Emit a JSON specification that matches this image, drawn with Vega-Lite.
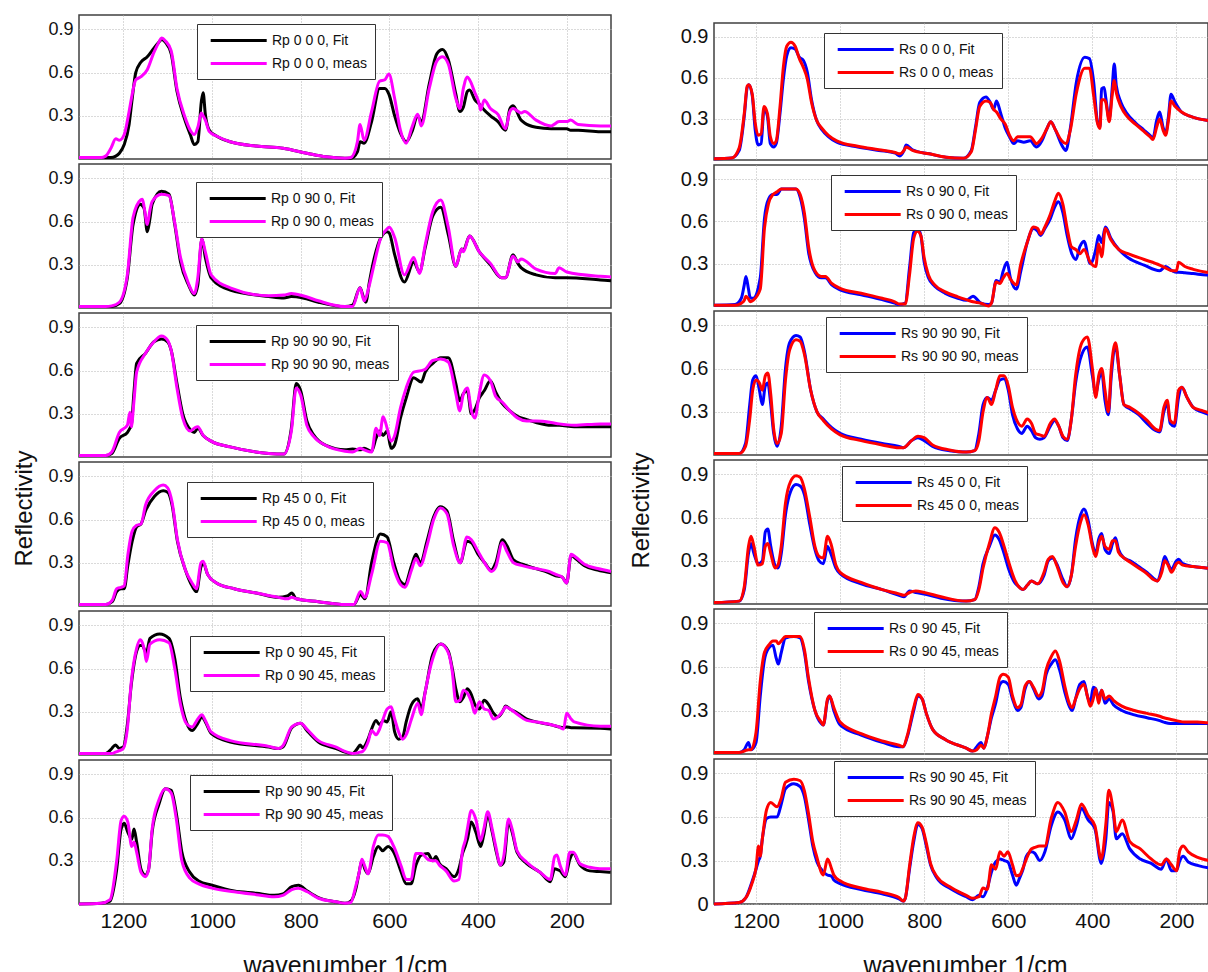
{
"$schema": "https://vega.github.io/schema/vega-lite/v6.json",
"padding": {"left": 11, "top": 13, "right": 0, "bottom": 0},
"background": "white",
"spacing": 14,
"resolve": {"scale": {"x": "independent", "y": "independent", "color": "independent"}, "legend": {"color": "independent"}},
"config": {
  "font": "Liberation Sans",
  "view": {"stroke": "#404040", "strokeWidth": 1.5},
  "axis": {"labelFont": "Liberation Sans", "titleFont": "Liberation Sans", "labelColor": "#111", "titleColor": "#111", "titleFontWeight": "normal", "gridColor": "#b5b5b5", "gridDash": [1, 2], "gridWidth": 1, "domain": false, "ticks": false, "labelPadding": 6},
  "legend": {"symbolType": "M-0.4,0H7.6", "symbolSize": 196, "symbolStrokeWidth": 4, "labelFontSize": 14, "labelFont": "Liberation Sans", "labelColor": "#111", "labelOffset": 50, "padding": 8, "strokeColor": "#333", "fillColor": "white", "rowPadding": 7, "labelLimit": 300},
  "line": {"strokeWidth": 3, "interpolate": "monotone", "clip": true, "strokeJoin": "round"}
},
"datasets": {
"L1": [
{"x":1300,"f":0.01,"m":0.01},{"x":1250,"f":0.01,"m":0.01},{"x":1240,"f":0.01,"m":0.02},{"x":1228,"f":0.01,"m":0.075},{"x":1217,"f":0.02,"m":0.14},{"x":1209,"f":0.04,"m":0.13},{"x":1198,"f":0.10,"m":0.17},{"x":1187,"f":0.24,"m":0.33},{"x":1180,"f":0.42,"m":0.45},{"x":1172,"f":0.60,"m":0.55},{"x":1161,"f":0.67,"m":0.57},{"x":1146,"f":0.71,"m":0.62},{"x":1131,"f":0.77,"m":0.74},{"x":1120,"f":0.81,"m":0.81},{"x":1114,"f":0.83,"m":0.84},{"x":1105,"f":0.81,"m":0.82},{"x":1092,"f":0.73,"m":0.75},{"x":1079,"f":0.47,"m":0.49},{"x":1062,"f":0.28,"m":0.30},{"x":1049,"f":0.17,"m":0.20},{"x":1040,"f":0.10,"m":0.17},{"x":1032,"f":0.12,"m":0.22},{"x":1024,"f":0.40,"m":0.32},{"x":1020,"f":0.46,"m":0.30},{"x":1015,"f":0.31,"m":0.27},{"x":1006,"f":0.20,"m":0.19},{"x":990,"f":0.16,"m":0.16},{"x":959,"f":0.12,"m":0.12},{"x":900,"f":0.09,"m":0.09},{"x":840,"f":0.075,"m":0.075},{"x":786,"f":0.04,"m":0.04},{"x":743,"f":0.015,"m":0.015},{"x":700,"f":0.005,"m":0.005},{"x":687,"f":0.005,"m":0.01},{"x":672,"f":0.05,"m":0.12},{"x":666,"f":0.12,"m":0.24},{"x":657,"f":0.11,"m":0.13},{"x":640,"f":0.26,"m":0.33},{"x":622,"f":0.49,"m":0.54},{"x":610,"f":0.49,"m":0.55},{"x":601,"f":0.45,"m":0.59},{"x":588,"f":0.30,"m":0.42},{"x":575,"f":0.18,"m":0.20},{"x":562,"f":0.12,"m":0.11},{"x":549,"f":0.19,"m":0.22},{"x":536,"f":0.30,"m":0.31},{"x":528,"f":0.26,"m":0.23},{"x":510,"f":0.52,"m":0.49},{"x":493,"f":0.73,"m":0.68},{"x":480,"f":0.76,"m":0.71},{"x":467,"f":0.69,"m":0.66},{"x":450,"f":0.45,"m":0.42},{"x":441,"f":0.33,"m":0.35},{"x":433,"f":0.36,"m":0.49},{"x":424,"f":0.47,"m":0.57},{"x":419,"f":0.48,"m":0.55},{"x":407,"f":0.41,"m":0.46},{"x":397,"f":0.38,"m":0.38},{"x":394,"f":0.37,"m":0.34},{"x":386,"f":0.34,"m":0.41},{"x":372,"f":0.30,"m":0.35},{"x":355,"f":0.26,"m":0.31},{"x":338,"f":0.20,"m":0.21},{"x":328,"f":0.35,"m":0.33},{"x":321,"f":0.37,"m":0.35},{"x":303,"f":0.27,"m":0.32},{"x":295,"f":0.25,"m":0.33},{"x":269,"f":0.22,"m":0.27},{"x":235,"f":0.21,"m":0.23},{"x":217,"f":0.21,"m":0.26},{"x":200,"f":0.21,"m":0.26},{"x":191,"f":0.20,"m":0.27},{"x":174,"f":0.20,"m":0.24},{"x":124,"f":0.19,"m":0.23},{"x":100,"f":0.19,"m":0.23}
],
"L2": [
{"x":1300,"f":0.01,"m":0.01},{"x":1240,"f":0.01,"m":0.01},{"x":1226,"f":0.01,"m":0.015},{"x":1209,"f":0.03,"m":0.04},{"x":1191,"f":0.21,"m":0.23},{"x":1178,"f":0.58,"m":0.63},{"x":1161,"f":0.72,"m":0.75},{"x":1157,"f":0.71,"m":0.755},{"x":1153,"f":0.69,"m":0.70},{"x":1146,"f":0.53,"m":0.58},{"x":1140,"f":0.62,"m":0.68},{"x":1135,"f":0.72,"m":0.74},{"x":1114,"f":0.81,"m":0.79},{"x":1097,"f":0.79,"m":0.78},{"x":1084,"f":0.58,"m":0.59},{"x":1071,"f":0.32,"m":0.35},{"x":1053,"f":0.16,"m":0.17},{"x":1040,"f":0.09,"m":0.10},{"x":1032,"f":0.16,"m":0.21},{"x":1023,"f":0.48,"m":0.48},{"x":1015,"f":0.35,"m":0.39},{"x":1002,"f":0.21,"m":0.23},{"x":959,"f":0.125,"m":0.14},{"x":872,"f":0.08,"m":0.085},{"x":838,"f":0.07,"m":0.09},{"x":821,"f":0.08,"m":0.10},{"x":795,"f":0.07,"m":0.085},{"x":760,"f":0.04,"m":0.05},{"x":700,"f":0.01,"m":0.01},{"x":683,"f":0.02,"m":0.01},{"x":666,"f":0.14,"m":0.14},{"x":657,"f":0.06,"m":0.05},{"x":653,"f":0.04,"m":0.07},{"x":645,"f":0.18,"m":0.16},{"x":636,"f":0.32,"m":0.28},{"x":619,"f":0.49,"m":0.49},{"x":605,"f":0.53,"m":0.55},{"x":600,"f":0.52,"m":0.56},{"x":588,"f":0.37,"m":0.49},{"x":566,"f":0.18,"m":0.23},{"x":545,"f":0.32,"m":0.35},{"x":532,"f":0.25,"m":0.24},{"x":519,"f":0.42,"m":0.44},{"x":502,"f":0.64,"m":0.67},{"x":484,"f":0.70,"m":0.75},{"x":467,"f":0.51,"m":0.56},{"x":450,"f":0.29,"m":0.29},{"x":437,"f":0.41,"m":0.41},{"x":433,"f":0.40,"m":0.39},{"x":419,"f":0.50,"m":0.50},{"x":397,"f":0.39,"m":0.39},{"x":372,"f":0.30,"m":0.31},{"x":347,"f":0.21,"m":0.21},{"x":338,"f":0.21,"m":0.21},{"x":321,"f":0.37,"m":0.36},{"x":310,"f":0.31,"m":0.32},{"x":303,"f":0.28,"m":0.34},{"x":269,"f":0.23,"m":0.27},{"x":226,"f":0.21,"m":0.24},{"x":217,"f":0.21,"m":0.28},{"x":200,"f":0.21,"m":0.25},{"x":124,"f":0.195,"m":0.22},{"x":100,"f":0.19,"m":0.215}
],
"L3": [
{"x":1300,"f":0.01,"m":0.01},{"x":1240,"f":0.01,"m":0.01},{"x":1226,"f":0.025,"m":0.035},{"x":1209,"f":0.13,"m":0.17},{"x":1191,"f":0.17,"m":0.22},{"x":1185,"f":0.20,"m":0.31},{"x":1182,"f":0.22,"m":0.21},{"x":1176,"f":0.45,"m":0.39},{"x":1170,"f":0.65,"m":0.59},{"x":1150,"f":0.72,"m":0.72},{"x":1131,"f":0.80,"m":0.80},{"x":1114,"f":0.82,"m":0.84},{"x":1100,"f":0.80,"m":0.81},{"x":1092,"f":0.74,"m":0.74},{"x":1079,"f":0.51,"m":0.48},{"x":1066,"f":0.30,"m":0.27},{"x":1049,"f":0.19,"m":0.18},{"x":1040,"f":0.17,"m":0.20},{"x":1032,"f":0.20,"m":0.21},{"x":1020,"f":0.15,"m":0.15},{"x":1002,"f":0.11,"m":0.11},{"x":959,"f":0.07,"m":0.07},{"x":872,"f":0.025,"m":0.025},{"x":838,"f":0.02,"m":0.02},{"x":821,"f":0.20,"m":0.18},{"x":810,"f":0.51,"m":0.48},{"x":800,"f":0.46,"m":0.43},{"x":786,"f":0.25,"m":0.22},{"x":770,"f":0.15,"m":0.14},{"x":743,"f":0.08,"m":0.08},{"x":700,"f":0.05,"m":0.04},{"x":683,"f":0.055,"m":0.035},{"x":666,"f":0.05,"m":0.06},{"x":657,"f":0.06,"m":0.05},{"x":640,"f":0.04,"m":0.035},{"x":630,"f":0.13,"m":0.20},{"x":622,"f":0.18,"m":0.15},{"x":614,"f":0.15,"m":0.28},{"x":605,"f":0.18,"m":0.20},{"x":596,"f":0.06,"m":0.11},{"x":588,"f":0.085,"m":0.15},{"x":575,"f":0.27,"m":0.34},{"x":562,"f":0.41,"m":0.48},{"x":545,"f":0.55,"m":0.59},{"x":528,"f":0.52,"m":0.60},{"x":519,"f":0.59,"m":0.61},{"x":502,"f":0.65,"m":0.67},{"x":484,"f":0.69,"m":0.68},{"x":467,"f":0.69,"m":0.66},{"x":450,"f":0.51,"m":0.44},{"x":441,"f":0.39,"m":0.32},{"x":433,"f":0.44,"m":0.44},{"x":424,"f":0.46,"m":0.48},{"x":415,"f":0.30,"m":0.32},{"x":407,"f":0.33,"m":0.27},{"x":397,"f":0.41,"m":0.44},{"x":386,"f":0.46,"m":0.57},{"x":372,"f":0.53,"m":0.53},{"x":360,"f":0.45,"m":0.42},{"x":345,"f":0.37,"m":0.38},{"x":328,"f":0.32,"m":0.32},{"x":310,"f":0.28,"m":0.27},{"x":290,"f":0.26,"m":0.25},{"x":269,"f":0.24,"m":0.25},{"x":235,"f":0.22,"m":0.24},{"x":217,"f":0.22,"m":0.23},{"x":183,"f":0.21,"m":0.22},{"x":124,"f":0.21,"m":0.23},{"x":100,"f":0.21,"m":0.23}
],
"L4": [
{"x":1300,"f":0.01,"m":0.01},{"x":1240,"f":0.01,"m":0.01},{"x":1225,"f":0.03,"m":0.04},{"x":1215,"f":0.10,"m":0.12},{"x":1205,"f":0.12,"m":0.13},{"x":1198,"f":0.12,"m":0.14},{"x":1190,"f":0.28,"m":0.35},{"x":1180,"f":0.45,"m":0.52},{"x":1170,"f":0.55,"m":0.56},{"x":1160,"f":0.57,"m":0.57},{"x":1150,"f":0.66,"m":0.70},{"x":1130,"f":0.76,"m":0.80},{"x":1110,"f":0.80,"m":0.84},{"x":1100,"f":0.79,"m":0.82},{"x":1090,"f":0.70,"m":0.72},{"x":1078,"f":0.45,"m":0.46},{"x":1060,"f":0.25,"m":0.25},{"x":1045,"f":0.14,"m":0.16},{"x":1035,"f":0.10,"m":0.12},{"x":1025,"f":0.27,"m":0.30},{"x":1020,"f":0.30,"m":0.31},{"x":1010,"f":0.22,"m":0.22},{"x":990,"f":0.16,"m":0.16},{"x":950,"f":0.12,"m":0.12},{"x":900,"f":0.09,"m":0.09},{"x":850,"f":0.06,"m":0.06},{"x":830,"f":0.07,"m":0.05},{"x":820,"f":0.09,"m":0.06},{"x":810,"f":0.05,"m":0.05},{"x":760,"f":0.03,"m":0.03},{"x":700,"f":0.01,"m":0.01},{"x":680,"f":0.01,"m":0.01},{"x":665,"f":0.08,"m":0.10},{"x":655,"f":0.05,"m":0.06},{"x":640,"f":0.30,"m":0.22},{"x":620,"f":0.50,"m":0.45},{"x":605,"f":0.48,"m":0.44},{"x":590,"f":0.30,"m":0.26},{"x":575,"f":0.17,"m":0.15},{"x":565,"f":0.15,"m":0.13},{"x":550,"f":0.28,"m":0.25},{"x":540,"f":0.36,"m":0.33},{"x":530,"f":0.30,"m":0.28},{"x":515,"f":0.45,"m":0.42},{"x":500,"f":0.62,"m":0.60},{"x":485,"f":0.69,"m":0.68},{"x":470,"f":0.66,"m":0.64},{"x":455,"f":0.45,"m":0.42},{"x":440,"f":0.30,"m":0.30},{"x":425,"f":0.45,"m":0.48},{"x":415,"f":0.44,"m":0.46},{"x":400,"f":0.36,"m":0.38},{"x":385,"f":0.30,"m":0.30},{"x":370,"f":0.25,"m":0.24},{"x":360,"f":0.30,"m":0.27},{"x":345,"f":0.46,"m":0.44},{"x":335,"f":0.42,"m":0.38},{"x":320,"f":0.32,"m":0.30},{"x":300,"f":0.29,"m":0.28},{"x":270,"f":0.26,"m":0.26},{"x":240,"f":0.23,"m":0.24},{"x":225,"f":0.21,"m":0.22},{"x":210,"f":0.20,"m":0.20},{"x":200,"f":0.16,"m":0.16},{"x":190,"f":0.35,"m":0.36},{"x":180,"f":0.33,"m":0.34},{"x":160,"f":0.28,"m":0.29},{"x":130,"f":0.25,"m":0.26},{"x":100,"f":0.23,"m":0.24}
],
"L5": [
{"x":1300,"f":0.01,"m":0.01},{"x":1240,"f":0.01,"m":0.01},{"x":1226,"f":0.045,"m":0.01},{"x":1218,"f":0.07,"m":0.02},{"x":1209,"f":0.045,"m":0.03},{"x":1200,"f":0.055,"m":0.045},{"x":1191,"f":0.21,"m":0.18},{"x":1182,"f":0.49,"m":0.51},{"x":1170,"f":0.72,"m":0.74},{"x":1162,"f":0.76,"m":0.80},{"x":1157,"f":0.76,"m":0.78},{"x":1152,"f":0.73,"m":0.72},{"x":1148,"f":0.71,"m":0.65},{"x":1140,"f":0.81,"m":0.77},{"x":1118,"f":0.84,"m":0.80},{"x":1097,"f":0.81,"m":0.78},{"x":1084,"f":0.67,"m":0.60},{"x":1071,"f":0.39,"m":0.35},{"x":1058,"f":0.23,"m":0.22},{"x":1045,"f":0.17,"m":0.195},{"x":1032,"f":0.22,"m":0.25},{"x":1023,"f":0.265,"m":0.28},{"x":1015,"f":0.23,"m":0.24},{"x":1002,"f":0.15,"m":0.16},{"x":959,"f":0.09,"m":0.10},{"x":872,"f":0.055,"m":0.06},{"x":850,"f":0.045,"m":0.045},{"x":840,"f":0.055,"m":0.065},{"x":820,"f":0.19,"m":0.195},{"x":800,"f":0.22,"m":0.22},{"x":786,"f":0.17,"m":0.18},{"x":760,"f":0.09,"m":0.10},{"x":720,"f":0.045,"m":0.055},{"x":700,"f":0.02,"m":0.025},{"x":683,"f":0.01,"m":0.01},{"x":672,"f":0.045,"m":0.015},{"x":666,"f":0.07,"m":0.02},{"x":660,"f":0.05,"m":0.025},{"x":648,"f":0.11,"m":0.09},{"x":640,"f":0.18,"m":0.17},{"x":630,"f":0.24,"m":0.14},{"x":622,"f":0.21,"m":0.18},{"x":614,"f":0.24,"m":0.25},{"x":605,"f":0.23,"m":0.32},{"x":596,"f":0.30,"m":0.335},{"x":588,"f":0.16,"m":0.25},{"x":579,"f":0.11,"m":0.16},{"x":570,"f":0.125,"m":0.11},{"x":562,"f":0.23,"m":0.14},{"x":550,"f":0.35,"m":0.25},{"x":536,"f":0.39,"m":0.36},{"x":528,"f":0.32,"m":0.28},{"x":519,"f":0.44,"m":0.44},{"x":502,"f":0.70,"m":0.67},{"x":484,"f":0.77,"m":0.77},{"x":467,"f":0.72,"m":0.71},{"x":458,"f":0.60,"m":0.58},{"x":450,"f":0.46,"m":0.37},{"x":441,"f":0.37,"m":0.38},{"x":433,"f":0.40,"m":0.45},{"x":424,"f":0.46,"m":0.43},{"x":415,"f":0.42,"m":0.37},{"x":407,"f":0.35,"m":0.29},{"x":397,"f":0.32,"m":0.37},{"x":386,"f":0.38,"m":0.32},{"x":376,"f":0.35,"m":0.31},{"x":365,"f":0.29,"m":0.25},{"x":355,"f":0.265,"m":0.265},{"x":343,"f":0.31,"m":0.31},{"x":338,"f":0.34,"m":0.335},{"x":328,"f":0.32,"m":0.32},{"x":310,"f":0.29,"m":0.28},{"x":290,"f":0.25,"m":0.24},{"x":269,"f":0.23,"m":0.23},{"x":235,"f":0.21,"m":0.21},{"x":217,"f":0.195,"m":0.195},{"x":207,"f":0.19,"m":0.18},{"x":200,"f":0.195,"m":0.29},{"x":190,"f":0.19,"m":0.25},{"x":183,"f":0.19,"m":0.23},{"x":124,"f":0.185,"m":0.20},{"x":100,"f":0.18,"m":0.20}
],
"L6": [
{"x":1300,"f":0.0,"m":0.0},{"x":1250,"f":0.005,"m":0.005},{"x":1230,"f":0.02,"m":0.03},{"x":1215,"f":0.24,"m":0.30},{"x":1205,"f":0.52,"m":0.58},{"x":1198,"f":0.56,"m":0.61},{"x":1190,"f":0.50,"m":0.57},{"x":1181,"f":0.45,"m":0.40},{"x":1176,"f":0.52,"m":0.43},{"x":1170,"f":0.43,"m":0.36},{"x":1160,"f":0.24,"m":0.22},{"x":1150,"f":0.20,"m":0.19},{"x":1143,"f":0.24,"m":0.24},{"x":1135,"f":0.50,"m":0.52},{"x":1120,"f":0.69,"m":0.72},{"x":1105,"f":0.80,"m":0.80},{"x":1092,"f":0.79,"m":0.77},{"x":1080,"f":0.62,"m":0.58},{"x":1068,"f":0.36,"m":0.30},{"x":1050,"f":0.22,"m":0.18},{"x":1030,"f":0.16,"m":0.14},{"x":1000,"f":0.13,"m":0.11},{"x":950,"f":0.09,"m":0.085},{"x":900,"f":0.075,"m":0.065},{"x":860,"f":0.06,"m":0.05},{"x":840,"f":0.07,"m":0.06},{"x":820,"f":0.12,"m":0.10},{"x":805,"f":0.13,"m":0.11},{"x":785,"f":0.09,"m":0.085},{"x":760,"f":0.045,"m":0.04},{"x":720,"f":0.015,"m":0.015},{"x":700,"f":0.005,"m":0.005},{"x":687,"f":0.02,"m":0.01},{"x":676,"f":0.10,"m":0.12},{"x":668,"f":0.22,"m":0.22},{"x":662,"f":0.30,"m":0.31},{"x":655,"f":0.24,"m":0.26},{"x":648,"f":0.21,"m":0.21},{"x":636,"f":0.33,"m":0.40},{"x":625,"f":0.40,"m":0.48},{"x":615,"f":0.37,"m":0.48},{"x":603,"f":0.40,"m":0.47},{"x":590,"f":0.36,"m":0.40},{"x":573,"f":0.22,"m":0.26},{"x":562,"f":0.14,"m":0.17},{"x":551,"f":0.14,"m":0.17},{"x":540,"f":0.27,"m":0.35},{"x":528,"f":0.34,"m":0.35},{"x":513,"f":0.35,"m":0.31},{"x":502,"f":0.30,"m":0.30},{"x":495,"f":0.33,"m":0.30},{"x":487,"f":0.28,"m":0.27},{"x":472,"f":0.245,"m":0.23},{"x":454,"f":0.19,"m":0.16},{"x":443,"f":0.245,"m":0.17},{"x":435,"f":0.35,"m":0.37},{"x":428,"f":0.41,"m":0.45},{"x":424,"f":0.45,"m":0.52},{"x":415,"f":0.57,"m":0.65},{"x":405,"f":0.50,"m":0.59},{"x":394,"f":0.40,"m":0.44},{"x":387,"f":0.48,"m":0.52},{"x":378,"f":0.62,"m":0.64},{"x":368,"f":0.50,"m":0.52},{"x":360,"f":0.38,"m":0.40},{"x":349,"f":0.27,"m":0.27},{"x":342,"f":0.29,"m":0.33},{"x":331,"f":0.57,"m":0.59},{"x":323,"f":0.50,"m":0.52},{"x":312,"f":0.36,"m":0.37},{"x":290,"f":0.28,"m":0.29},{"x":260,"f":0.22,"m":0.22},{"x":237,"f":0.155,"m":0.17},{"x":227,"f":0.245,"m":0.33},{"x":222,"f":0.24,"m":0.34},{"x":215,"f":0.23,"m":0.27},{"x":203,"f":0.19,"m":0.20},{"x":193,"f":0.31,"m":0.36},{"x":185,"f":0.35,"m":0.36},{"x":170,"f":0.27,"m":0.28},{"x":148,"f":0.23,"m":0.255},{"x":125,"f":0.225,"m":0.245},{"x":101,"f":0.22,"m":0.245}
],
"R1": [
{"x":1300,"f":0.01,"m":0.01},{"x":1258,"f":0.015,"m":0.015},{"x":1240,"f":0.07,"m":0.09},{"x":1228,"f":0.32,"m":0.34},{"x":1221,"f":0.53,"m":0.54},{"x":1217,"f":0.55,"m":0.55},{"x":1209,"f":0.47,"m":0.48},{"x":1202,"f":0.22,"m":0.27},{"x":1195,"f":0.11,"m":0.18},{"x":1188,"f":0.12,"m":0.19},{"x":1181,"f":0.37,"m":0.39},{"x":1173,"f":0.32,"m":0.34},{"x":1166,"f":0.12,"m":0.17},{"x":1158,"f":0.095,"m":0.12},{"x":1152,"f":0.12,"m":0.14},{"x":1143,"f":0.34,"m":0.39},{"x":1135,"f":0.59,"m":0.68},{"x":1127,"f":0.76,"m":0.83},{"x":1117,"f":0.82,"m":0.86},{"x":1107,"f":0.81,"m":0.83},{"x":1097,"f":0.75,"m":0.74},{"x":1088,"f":0.73,"m":0.68},{"x":1078,"f":0.64,"m":0.59},{"x":1068,"f":0.44,"m":0.42},{"x":1056,"f":0.29,"m":0.29},{"x":1043,"f":0.22,"m":0.23},{"x":1028,"f":0.17,"m":0.18},{"x":1008,"f":0.13,"m":0.14},{"x":958,"f":0.095,"m":0.10},{"x":908,"f":0.07,"m":0.075},{"x":869,"f":0.05,"m":0.055},{"x":858,"f":0.03,"m":0.045},{"x":848,"f":0.07,"m":0.07},{"x":843,"f":0.11,"m":0.095},{"x":828,"f":0.075,"m":0.07},{"x":788,"f":0.045,"m":0.045},{"x":748,"f":0.02,"m":0.02},{"x":707,"f":0.012,"m":0.012},{"x":688,"f":0.07,"m":0.06},{"x":678,"f":0.24,"m":0.22},{"x":668,"f":0.42,"m":0.39},{"x":653,"f":0.46,"m":0.43},{"x":643,"f":0.42,"m":0.42},{"x":635,"f":0.37,"m":0.37},{"x":628,"f":0.43,"m":0.35},{"x":618,"f":0.34,"m":0.30},{"x":607,"f":0.23,"m":0.26},{"x":597,"f":0.17,"m":0.18},{"x":587,"f":0.12,"m":0.14},{"x":578,"f":0.14,"m":0.17},{"x":563,"f":0.13,"m":0.17},{"x":548,"f":0.14,"m":0.17},{"x":533,"f":0.095,"m":0.12},{"x":520,"f":0.14,"m":0.16},{"x":508,"f":0.23,"m":0.23},{"x":499,"f":0.28,"m":0.28},{"x":488,"f":0.22,"m":0.22},{"x":473,"f":0.11,"m":0.14},{"x":463,"f":0.07,"m":0.12},{"x":453,"f":0.22,"m":0.21},{"x":438,"f":0.57,"m":0.49},{"x":418,"f":0.75,"m":0.67},{"x":407,"f":0.74,"m":0.67},{"x":397,"f":0.57,"m":0.47},{"x":388,"f":0.28,"m":0.27},{"x":382,"f":0.24,"m":0.23},{"x":378,"f":0.52,"m":0.44},{"x":372,"f":0.53,"m":0.44},{"x":368,"f":0.45,"m":0.42},{"x":360,"f":0.30,"m":0.28},{"x":353,"f":0.52,"m":0.47},{"x":348,"f":0.70,"m":0.58},{"x":343,"f":0.54,"m":0.49},{"x":332,"f":0.42,"m":0.39},{"x":318,"f":0.34,"m":0.32},{"x":297,"f":0.27,"m":0.26},{"x":278,"f":0.22,"m":0.21},{"x":263,"f":0.18,"m":0.17},{"x":256,"f":0.16,"m":0.15},{"x":247,"f":0.29,"m":0.24},{"x":240,"f":0.35,"m":0.30},{"x":232,"f":0.24,"m":0.22},{"x":226,"f":0.19,"m":0.18},{"x":219,"f":0.32,"m":0.29},{"x":213,"f":0.48,"m":0.43},{"x":203,"f":0.42,"m":0.39},{"x":188,"f":0.35,"m":0.35},{"x":168,"f":0.32,"m":0.32},{"x":147,"f":0.30,"m":0.30},{"x":127,"f":0.29,"m":0.29},{"x":100,"f":0.28,"m":0.28}
],
"R2": [
{"x":1300,"f":0.005,"m":0.005},{"x":1250,"f":0.01,"m":0.005},{"x":1235,"f":0.055,"m":0.02},{"x":1228,"f":0.15,"m":0.04},{"x":1224,"f":0.21,"m":0.07},{"x":1218,"f":0.12,"m":0.05},{"x":1214,"f":0.06,"m":0.03},{"x":1207,"f":0.055,"m":0.04},{"x":1190,"f":0.20,"m":0.12},{"x":1180,"f":0.62,"m":0.55},{"x":1170,"f":0.76,"m":0.73},{"x":1160,"f":0.79,"m":0.79},{"x":1150,"f":0.79,"m":0.81},{"x":1140,"f":0.83,"m":0.83},{"x":1120,"f":0.83,"m":0.83},{"x":1105,"f":0.83,"m":0.83},{"x":1095,"f":0.77,"m":0.79},{"x":1085,"f":0.62,"m":0.66},{"x":1075,"f":0.38,"m":0.42},{"x":1060,"f":0.24,"m":0.25},{"x":1045,"f":0.20,"m":0.21},{"x":1035,"f":0.20,"m":0.21},{"x":1020,"f":0.15,"m":0.16},{"x":1000,"f":0.115,"m":0.125},{"x":950,"f":0.08,"m":0.09},{"x":900,"f":0.045,"m":0.055},{"x":870,"f":0.02,"m":0.03},{"x":860,"f":0.01,"m":0.015},{"x":845,"f":0.02,"m":0.015},{"x":835,"f":0.27,"m":0.22},{"x":825,"f":0.52,"m":0.48},{"x":816,"f":0.55,"m":0.53},{"x":808,"f":0.50,"m":0.50},{"x":800,"f":0.31,"m":0.34},{"x":790,"f":0.20,"m":0.22},{"x":775,"f":0.14,"m":0.15},{"x":750,"f":0.09,"m":0.10},{"x":720,"f":0.055,"m":0.065},{"x":700,"f":0.04,"m":0.045},{"x":684,"f":0.07,"m":0.03},{"x":665,"f":0.02,"m":0.02},{"x":647,"f":0.01,"m":0.0},{"x":640,"f":0.02,"m":0.02},{"x":629,"f":0.18,"m":0.17},{"x":620,"f":0.17,"m":0.16},{"x":612,"f":0.25,"m":0.20},{"x":603,"f":0.31,"m":0.23},{"x":595,"f":0.20,"m":0.19},{"x":581,"f":0.12,"m":0.15},{"x":570,"f":0.25,"m":0.30},{"x":555,"f":0.45,"m":0.45},{"x":540,"f":0.55,"m":0.56},{"x":530,"f":0.53,"m":0.55},{"x":523,"f":0.50,"m":0.51},{"x":513,"f":0.55,"m":0.56},{"x":500,"f":0.62,"m":0.65},{"x":490,"f":0.70,"m":0.74},{"x":481,"f":0.74,"m":0.80},{"x":470,"f":0.66,"m":0.72},{"x":460,"f":0.50,"m":0.55},{"x":450,"f":0.38,"m":0.42},{"x":439,"f":0.33,"m":0.40},{"x":430,"f":0.42,"m":0.37},{"x":420,"f":0.46,"m":0.40},{"x":405,"f":0.30,"m":0.31},{"x":392,"f":0.40,"m":0.28},{"x":385,"f":0.50,"m":0.44},{"x":378,"f":0.45,"m":0.35},{"x":369,"f":0.56,"m":0.55},{"x":356,"f":0.48,"m":0.47},{"x":337,"f":0.40,"m":0.40},{"x":314,"f":0.34,"m":0.37},{"x":277,"f":0.29,"m":0.33},{"x":240,"f":0.25,"m":0.29},{"x":226,"f":0.28,"m":0.27},{"x":210,"f":0.25,"m":0.25},{"x":200,"f":0.24,"m":0.25},{"x":195,"f":0.24,"m":0.31},{"x":180,"f":0.235,"m":0.28},{"x":160,"f":0.23,"m":0.26},{"x":129,"f":0.22,"m":0.24},{"x":100,"f":0.22,"m":0.235}
],
"R3": [
{"x":1300,"f":0.01,"m":0.01},{"x":1240,"f":0.01,"m":0.01},{"x":1225,"f":0.08,"m":0.06},{"x":1215,"f":0.35,"m":0.25},{"x":1208,"f":0.52,"m":0.45},{"x":1200,"f":0.55,"m":0.52},{"x":1192,"f":0.45,"m":0.50},{"x":1185,"f":0.35,"m":0.45},{"x":1178,"f":0.48,"m":0.55},{"x":1172,"f":0.50,"m":0.57},{"x":1165,"f":0.35,"m":0.42},{"x":1158,"f":0.15,"m":0.18},{"x":1150,"f":0.06,"m":0.08},{"x":1140,"f":0.20,"m":0.15},{"x":1130,"f":0.60,"m":0.52},{"x":1120,"f":0.78,"m":0.73},{"x":1105,"f":0.83,"m":0.80},{"x":1095,"f":0.82,"m":0.79},{"x":1085,"f":0.72,"m":0.70},{"x":1070,"f":0.45,"m":0.45},{"x":1055,"f":0.30,"m":0.30},{"x":1040,"f":0.25,"m":0.24},{"x":1020,"f":0.19,"m":0.18},{"x":1000,"f":0.15,"m":0.14},{"x":950,"f":0.11,"m":0.10},{"x":900,"f":0.08,"m":0.07},{"x":860,"f":0.06,"m":0.05},{"x":850,"f":0.05,"m":0.05},{"x":830,"f":0.10,"m":0.10},{"x":815,"f":0.12,"m":0.13},{"x":800,"f":0.10,"m":0.12},{"x":780,"f":0.06,"m":0.07},{"x":740,"f":0.03,"m":0.035},{"x":700,"f":0.02,"m":0.02},{"x":680,"f":0.03,"m":0.03},{"x":670,"f":0.15,"m":0.10},{"x":660,"f":0.35,"m":0.30},{"x":650,"f":0.40,"m":0.40},{"x":640,"f":0.38,"m":0.35},{"x":630,"f":0.45,"m":0.45},{"x":620,"f":0.52,"m":0.55},{"x":610,"f":0.53,"m":0.55},{"x":600,"f":0.45,"m":0.48},{"x":590,"f":0.28,"m":0.33},{"x":578,"f":0.18,"m":0.23},{"x":568,"f":0.15,"m":0.20},{"x":555,"f":0.20,"m":0.25},{"x":545,"f":0.17,"m":0.22},{"x":535,"f":0.12,"m":0.15},{"x":525,"f":0.11,"m":0.14},{"x":515,"f":0.12,"m":0.13},{"x":500,"f":0.20,"m":0.22},{"x":490,"f":0.24,"m":0.25},{"x":480,"f":0.20,"m":0.20},{"x":470,"f":0.12,"m":0.13},{"x":460,"f":0.10,"m":0.11},{"x":450,"f":0.25,"m":0.25},{"x":440,"f":0.50,"m":0.55},{"x":425,"f":0.70,"m":0.78},{"x":412,"f":0.75,"m":0.82},{"x":400,"f":0.55,"m":0.60},{"x":392,"f":0.42,"m":0.40},{"x":385,"f":0.52,"m":0.55},{"x":378,"f":0.58,"m":0.60},{"x":370,"f":0.38,"m":0.45},{"x":362,"f":0.28,"m":0.30},{"x":355,"f":0.55,"m":0.60},{"x":345,"f":0.75,"m":0.78},{"x":335,"f":0.55,"m":0.55},{"x":325,"f":0.35,"m":0.35},{"x":310,"f":0.32,"m":0.33},{"x":290,"f":0.28,"m":0.29},{"x":270,"f":0.22,"m":0.24},{"x":250,"f":0.17,"m":0.18},{"x":240,"f":0.16,"m":0.17},{"x":230,"f":0.30,"m":0.33},{"x":222,"f":0.36,"m":0.38},{"x":215,"f":0.22,"m":0.24},{"x":205,"f":0.20,"m":0.22},{"x":195,"f":0.40,"m":0.45},{"x":187,"f":0.47,"m":0.47},{"x":175,"f":0.40,"m":0.40},{"x":160,"f":0.33,"m":0.33},{"x":140,"f":0.30,"m":0.31},{"x":120,"f":0.28,"m":0.29},{"x":100,"f":0.27,"m":0.28}
],
"R4": [
{"x":1300,"f":0.01,"m":0.01},{"x":1240,"f":0.02,"m":0.02},{"x":1228,"f":0.10,"m":0.12},{"x":1218,"f":0.35,"m":0.40},{"x":1212,"f":0.42,"m":0.47},{"x":1205,"f":0.35,"m":0.40},{"x":1195,"f":0.28,"m":0.27},{"x":1185,"f":0.30,"m":0.28},{"x":1178,"f":0.50,"m":0.40},{"x":1172,"f":0.52,"m":0.42},{"x":1165,"f":0.40,"m":0.35},{"x":1155,"f":0.27,"m":0.25},{"x":1148,"f":0.25,"m":0.27},{"x":1140,"f":0.35,"m":0.40},{"x":1130,"f":0.62,"m":0.70},{"x":1118,"f":0.78,"m":0.85},{"x":1105,"f":0.83,"m":0.89},{"x":1095,"f":0.82,"m":0.88},{"x":1085,"f":0.76,"m":0.80},{"x":1072,"f":0.55,"m":0.60},{"x":1060,"f":0.38,"m":0.40},{"x":1050,"f":0.30,"m":0.33},{"x":1040,"f":0.28,"m":0.32},{"x":1030,"f":0.40,"m":0.47},{"x":1022,"f":0.35,"m":0.42},{"x":1010,"f":0.25,"m":0.27},{"x":1000,"f":0.21,"m":0.22},{"x":950,"f":0.14,"m":0.15},{"x":900,"f":0.10,"m":0.10},{"x":860,"f":0.06,"m":0.07},{"x":848,"f":0.05,"m":0.06},{"x":835,"f":0.09,"m":0.08},{"x":820,"f":0.08,"m":0.09},{"x":800,"f":0.07,"m":0.08},{"x":760,"f":0.04,"m":0.05},{"x":700,"f":0.02,"m":0.02},{"x":680,"f":0.03,"m":0.03},{"x":670,"f":0.12,"m":0.10},{"x":660,"f":0.28,"m":0.25},{"x":645,"f":0.40,"m":0.42},{"x":632,"f":0.48,"m":0.53},{"x":622,"f":0.45,"m":0.50},{"x":610,"f":0.35,"m":0.40},{"x":600,"f":0.25,"m":0.30},{"x":585,"f":0.15,"m":0.17},{"x":575,"f":0.12,"m":0.12},{"x":565,"f":0.10,"m":0.10},{"x":555,"f":0.13,"m":0.13},{"x":545,"f":0.16,"m":0.16},{"x":530,"f":0.14,"m":0.14},{"x":515,"f":0.20,"m":0.22},{"x":505,"f":0.30,"m":0.31},{"x":495,"f":0.32,"m":0.33},{"x":485,"f":0.28,"m":0.27},{"x":470,"f":0.17,"m":0.15},{"x":460,"f":0.12,"m":0.12},{"x":450,"f":0.20,"m":0.20},{"x":440,"f":0.45,"m":0.40},{"x":428,"f":0.62,"m":0.57},{"x":420,"f":0.66,"m":0.62},{"x":410,"f":0.58,"m":0.55},{"x":400,"f":0.42,"m":0.40},{"x":392,"f":0.35,"m":0.33},{"x":385,"f":0.45,"m":0.42},{"x":378,"f":0.49,"m":0.47},{"x":370,"f":0.38,"m":0.40},{"x":360,"f":0.35,"m":0.38},{"x":352,"f":0.42,"m":0.44},{"x":345,"f":0.46,"m":0.44},{"x":338,"f":0.38,"m":0.36},{"x":325,"f":0.32,"m":0.32},{"x":310,"f":0.30,"m":0.29},{"x":290,"f":0.26,"m":0.25},{"x":270,"f":0.22,"m":0.21},{"x":255,"f":0.18,"m":0.17},{"x":245,"f":0.16,"m":0.16},{"x":235,"f":0.25,"m":0.22},{"x":228,"f":0.33,"m":0.30},{"x":220,"f":0.28,"m":0.27},{"x":212,"f":0.24,"m":0.22},{"x":200,"f":0.30,"m":0.28},{"x":195,"f":0.31,"m":0.29},{"x":185,"f":0.28,"m":0.27},{"x":160,"f":0.26,"m":0.26},{"x":130,"f":0.25,"m":0.25},{"x":100,"f":0.24,"m":0.24}
],
"R5": [
{"x":1300,"f":0.01,"m":0.01},{"x":1240,"f":0.01,"m":0.01},{"x":1228,"f":0.03,"m":0.02},{"x":1218,"f":0.08,"m":0.03},{"x":1212,"f":0.03,"m":0.03},{"x":1200,"f":0.08,"m":0.15},{"x":1190,"f":0.40,"m":0.50},{"x":1180,"f":0.65,"m":0.70},{"x":1170,"f":0.73,"m":0.75},{"x":1160,"f":0.75,"m":0.78},{"x":1152,"f":0.66,"m":0.78},{"x":1147,"f":0.62,"m":0.76},{"x":1140,"f":0.70,"m":0.78},{"x":1130,"f":0.80,"m":0.81},{"x":1110,"f":0.81,"m":0.81},{"x":1095,"f":0.80,"m":0.81},{"x":1085,"f":0.70,"m":0.72},{"x":1075,"f":0.50,"m":0.52},{"x":1060,"f":0.30,"m":0.30},{"x":1045,"f":0.21,"m":0.22},{"x":1040,"f":0.20,"m":0.20},{"x":1030,"f":0.37,"m":0.38},{"x":1025,"f":0.40,"m":0.40},{"x":1015,"f":0.30,"m":0.32},{"x":1000,"f":0.20,"m":0.22},{"x":950,"f":0.13,"m":0.14},{"x":900,"f":0.08,"m":0.09},{"x":860,"f":0.05,"m":0.06},{"x":850,"f":0.05,"m":0.05},{"x":840,"f":0.12,"m":0.13},{"x":825,"f":0.30,"m":0.32},{"x":815,"f":0.40,"m":0.41},{"x":805,"f":0.38,"m":0.38},{"x":795,"f":0.28,"m":0.28},{"x":780,"f":0.17,"m":0.17},{"x":750,"f":0.10,"m":0.10},{"x":700,"f":0.04,"m":0.04},{"x":685,"f":0.02,"m":0.02},{"x":675,"f":0.05,"m":0.03},{"x":665,"f":0.08,"m":0.06},{"x":658,"f":0.04,"m":0.04},{"x":650,"f":0.12,"m":0.12},{"x":640,"f":0.25,"m":0.28},{"x":630,"f":0.35,"m":0.40},{"x":620,"f":0.48,"m":0.53},{"x":612,"f":0.50,"m":0.55},{"x":600,"f":0.48,"m":0.53},{"x":590,"f":0.38,"m":0.40},{"x":578,"f":0.30,"m":0.32},{"x":570,"f":0.32,"m":0.34},{"x":560,"f":0.45,"m":0.47},{"x":550,"f":0.50,"m":0.50},{"x":540,"f":0.45,"m":0.46},{"x":528,"f":0.38,"m":0.40},{"x":520,"f":0.40,"m":0.43},{"x":510,"f":0.55,"m":0.58},{"x":498,"f":0.62,"m":0.67},{"x":488,"f":0.65,"m":0.71},{"x":478,"f":0.58,"m":0.64},{"x":465,"f":0.42,"m":0.46},{"x":455,"f":0.33,"m":0.35},{"x":448,"f":0.30,"m":0.32},{"x":440,"f":0.38,"m":0.38},{"x":430,"f":0.48,"m":0.45},{"x":420,"f":0.50,"m":0.48},{"x":412,"f":0.40,"m":0.40},{"x":405,"f":0.35,"m":0.33},{"x":398,"f":0.46,"m":0.38},{"x":392,"f":0.45,"m":0.45},{"x":385,"f":0.38,"m":0.35},{"x":378,"f":0.44,"m":0.44},{"x":370,"f":0.35,"m":0.38},{"x":360,"f":0.38,"m":0.40},{"x":350,"f":0.34,"m":0.37},{"x":330,"f":0.30,"m":0.33},{"x":300,"f":0.27,"m":0.30},{"x":270,"f":0.25,"m":0.28},{"x":240,"f":0.23,"m":0.26},{"x":230,"f":0.22,"m":0.25},{"x":215,"f":0.21,"m":0.24},{"x":200,"f":0.21,"m":0.23},{"x":180,"f":0.21,"m":0.22},{"x":150,"f":0.21,"m":0.22},{"x":120,"f":0.21,"m":0.215},{"x":100,"f":0.21,"m":0.215}
],
"R6": [
{"x":1300,"f":0.0,"m":0.0},{"x":1240,"f":0.01,"m":0.01},{"x":1225,"f":0.04,"m":0.04},{"x":1210,"f":0.15,"m":0.14},{"x":1200,"f":0.24,"m":0.25},{"x":1194,"f":0.30,"m":0.40},{"x":1190,"f":0.33,"m":0.33},{"x":1185,"f":0.45,"m":0.45},{"x":1175,"f":0.59,"m":0.65},{"x":1165,"f":0.60,"m":0.70},{"x":1150,"f":0.60,"m":0.67},{"x":1140,"f":0.69,"m":0.73},{"x":1130,"f":0.795,"m":0.84},{"x":1110,"f":0.83,"m":0.86},{"x":1095,"f":0.81,"m":0.85},{"x":1085,"f":0.74,"m":0.78},{"x":1075,"f":0.58,"m":0.62},{"x":1065,"f":0.40,"m":0.43},{"x":1055,"f":0.29,"m":0.32},{"x":1045,"f":0.24,"m":0.22},{"x":1040,"f":0.22,"m":0.20},{"x":1030,"f":0.20,"m":0.31},{"x":1020,"f":0.19,"m":0.24},{"x":1015,"f":0.165,"m":0.20},{"x":1000,"f":0.14,"m":0.16},{"x":950,"f":0.10,"m":0.11},{"x":900,"f":0.07,"m":0.08},{"x":860,"f":0.035,"m":0.045},{"x":850,"f":0.02,"m":0.02},{"x":845,"f":0.04,"m":0.04},{"x":835,"f":0.24,"m":0.26},{"x":825,"f":0.43,"m":0.46},{"x":815,"f":0.55,"m":0.56},{"x":805,"f":0.52,"m":0.53},{"x":795,"f":0.40,"m":0.42},{"x":785,"f":0.27,"m":0.28},{"x":770,"f":0.18,"m":0.19},{"x":740,"f":0.11,"m":0.12},{"x":700,"f":0.05,"m":0.06},{"x":685,"f":0.03,"m":0.04},{"x":670,"f":0.06,"m":0.05},{"x":660,"f":0.05,"m":0.11},{"x":650,"f":0.11,"m":0.10},{"x":640,"f":0.22,"m":0.27},{"x":630,"f":0.29,"m":0.24},{"x":620,"f":0.31,"m":0.36},{"x":610,"f":0.30,"m":0.33},{"x":601,"f":0.29,"m":0.36},{"x":590,"f":0.20,"m":0.27},{"x":581,"f":0.13,"m":0.195},{"x":573,"f":0.18,"m":0.20},{"x":565,"f":0.24,"m":0.25},{"x":557,"f":0.33,"m":0.31},{"x":545,"f":0.36,"m":0.38},{"x":537,"f":0.35,"m":0.39},{"x":525,"f":0.30,"m":0.40},{"x":513,"f":0.36,"m":0.40},{"x":498,"f":0.54,"m":0.59},{"x":482,"f":0.635,"m":0.70},{"x":466,"f":0.58,"m":0.635},{"x":450,"f":0.45,"m":0.50},{"x":438,"f":0.54,"m":0.58},{"x":426,"f":0.66,"m":0.69},{"x":410,"f":0.58,"m":0.61},{"x":394,"f":0.52,"m":0.54},{"x":379,"f":0.28,"m":0.31},{"x":368,"f":0.45,"m":0.55},{"x":361,"f":0.70,"m":0.785},{"x":351,"f":0.64,"m":0.66},{"x":343,"f":0.45,"m":0.50},{"x":329,"f":0.485,"m":0.58},{"x":311,"f":0.38,"m":0.43},{"x":286,"f":0.31,"m":0.38},{"x":260,"f":0.28,"m":0.31},{"x":236,"f":0.24,"m":0.27},{"x":224,"f":0.31,"m":0.31},{"x":212,"f":0.23,"m":0.27},{"x":200,"f":0.23,"m":0.23},{"x":192,"f":0.30,"m":0.37},{"x":184,"f":0.33,"m":0.40},{"x":172,"f":0.29,"m":0.36},{"x":148,"f":0.265,"m":0.32},{"x":124,"f":0.25,"m":0.30},{"x":100,"f":0.245,"m":0.29}
]
},
"hconcat": [
{
"bounds": "flush", "spacing": 5,
"resolve": {"scale": {"x": "independent", "y": "independent", "color": "independent"}, "legend": {"color": "independent"}},
"vconcat": [
{"width": 532, "height": 144, "data": {"name": "L1"}, "transform": [{"fold": ["f", "m"], "as": ["s", "v"]}], "mark": "line",
 "encoding": {
  "x": {"field": "x", "type": "quantitative", "scale": {"domain": [100, 1300], "reverse": true, "nice": false, "zero": false}, "axis": {"values": [1200, 1000, 800, 600, 400, 200], "labels": false, "title": null}},
  "y": {"field": "v", "type": "quantitative", "scale": {"domain": [0, 1], "nice": false}, "axis": {"values": [0.3, 0.6, 0.9], "format": ".1f", "labelFontSize": 18, "title": null}},
  "color": {"field": "s", "type": "nominal", "scale": {"domain": ["f", "m"], "range": ["#000000", "#ff00ff"]}, "legend": {"orient": "none", "legendX": 118, "legendY": 9, "title": null, "labelExpr": "datum.value == 'f' ? 'Rp 0 0 0, Fit' : 'Rp 0 0 0, meas'"}}}},
{"width": 532, "height": 144, "data": {"name": "L2"}, "transform": [{"fold": ["f", "m"], "as": ["s", "v"]}], "mark": "line",
 "encoding": {
  "x": {"field": "x", "type": "quantitative", "scale": {"domain": [100, 1300], "reverse": true, "nice": false, "zero": false}, "axis": {"values": [1200, 1000, 800, 600, 400, 200], "labels": false, "title": null}},
  "y": {"field": "v", "type": "quantitative", "scale": {"domain": [0, 1], "nice": false}, "axis": {"values": [0.3, 0.6, 0.9], "format": ".1f", "labelFontSize": 18, "title": null}},
  "color": {"field": "s", "type": "nominal", "scale": {"domain": ["f", "m"], "range": ["#000000", "#ff00ff"]}, "legend": {"orient": "none", "legendX": 117, "legendY": 18, "title": null, "labelExpr": "datum.value == 'f' ? 'Rp 0 90 0, Fit' : 'Rp 0 90 0, meas'"}}}},
{"width": 532, "height": 144, "data": {"name": "L3"}, "transform": [{"fold": ["f", "m"], "as": ["s", "v"]}], "mark": "line",
 "encoding": {
  "x": {"field": "x", "type": "quantitative", "scale": {"domain": [100, 1300], "reverse": true, "nice": false, "zero": false}, "axis": {"values": [1200, 1000, 800, 600, 400, 200], "labels": false, "title": null}},
  "y": {"field": "v", "type": "quantitative", "scale": {"domain": [0, 1], "nice": false}, "axis": {"values": [0.3, 0.6, 0.9], "format": ".1f", "labelFontSize": 18, "title": null}},
  "color": {"field": "s", "type": "nominal", "scale": {"domain": ["f", "m"], "range": ["#000000", "#ff00ff"]}, "legend": {"orient": "none", "legendX": 117, "legendY": 12, "title": null, "labelExpr": "datum.value == 'f' ? 'Rp 90 90 90, Fit' : 'Rp 90 90 90, meas'"}}}},
{"width": 532, "height": 144, "data": {"name": "L4"}, "transform": [{"fold": ["f", "m"], "as": ["s", "v"]}], "mark": "line",
 "encoding": {
  "x": {"field": "x", "type": "quantitative", "scale": {"domain": [100, 1300], "reverse": true, "nice": false, "zero": false}, "axis": {"values": [1200, 1000, 800, 600, 400, 200], "labels": false, "title": null}},
  "y": {"field": "v", "type": "quantitative", "scale": {"domain": [0, 1], "nice": false}, "axis": {"values": [0.3, 0.6, 0.9], "format": ".1f", "labelFontSize": 18, "title": "Reflectivity", "titleFontSize": 24, "titleX": -48, "titleY": 46, "titleBaseline": "alphabetic"}},
  "color": {"field": "s", "type": "nominal", "scale": {"domain": ["f", "m"], "range": ["#000000", "#ff00ff"]}, "legend": {"orient": "none", "legendX": 108, "legendY": 20, "title": null, "labelExpr": "datum.value == 'f' ? 'Rp 45 0 0, Fit' : 'Rp 45 0 0, meas'"}}}},
{"width": 532, "height": 144, "data": {"name": "L5"}, "transform": [{"fold": ["f", "m"], "as": ["s", "v"]}], "mark": "line",
 "encoding": {
  "x": {"field": "x", "type": "quantitative", "scale": {"domain": [100, 1300], "reverse": true, "nice": false, "zero": false}, "axis": {"values": [1200, 1000, 800, 600, 400, 200], "labels": false, "title": null}},
  "y": {"field": "v", "type": "quantitative", "scale": {"domain": [0, 1], "nice": false}, "axis": {"values": [0.3, 0.6, 0.9], "format": ".1f", "labelFontSize": 18, "title": null}},
  "color": {"field": "s", "type": "nominal", "scale": {"domain": ["f", "m"], "range": ["#000000", "#ff00ff"]}, "legend": {"orient": "none", "legendX": 111, "legendY": 25, "title": null, "labelExpr": "datum.value == 'f' ? 'Rp 0 90 45, Fit' : 'Rp 0 90 45, meas'"}}}},
{"width": 532, "height": 144, "data": {"name": "L6"}, "transform": [{"fold": ["f", "m"], "as": ["s", "v"]}], "mark": "line",
 "encoding": {
  "x": {"field": "x", "type": "quantitative", "scale": {"domain": [100, 1300], "reverse": true, "nice": false, "zero": false}, "axis": {"values": [1200, 1000, 800, 600, 400, 200], "format": "d", "labelFontSize": 21, "title": "wavenumber 1/cm", "titleFontSize": 25, "titlePadding": 22}},
  "y": {"field": "v", "type": "quantitative", "scale": {"domain": [0, 1], "nice": false}, "axis": {"values": [0.3, 0.6, 0.9], "format": ".1f", "labelFontSize": 18, "title": null}},
  "color": {"field": "s", "type": "nominal", "scale": {"domain": ["f", "m"], "range": ["#000000", "#ff00ff"]}, "legend": {"orient": "none", "legendX": 111, "legendY": 15, "title": null, "labelExpr": "datum.value == 'f' ? 'Rp 90 90 45, Fit' : 'Rp 90 90 45, meas'"}}}}
]
},
{
"bounds": "flush", "spacing": 5,
"resolve": {"scale": {"x": "independent", "y": "independent", "color": "independent"}, "legend": {"color": "independent"}},
"vconcat": [
{"width": 10, "height": 3, "data": {"values": [{"a": 1}]}, "mark": {"type": "point", "opacity": 0}, "encoding": {}, "view": {"stroke": null}},
{"width": 494, "height": 137, "data": {"name": "R1"}, "transform": [{"fold": ["f", "m"], "as": ["s", "v"]}], "mark": "line",
 "encoding": {
  "x": {"field": "x", "type": "quantitative", "scale": {"domain": [125, 1300], "reverse": true, "nice": false, "zero": false}, "axis": {"values": [1200, 1000, 800, 600, 400, 200], "labels": false, "title": null}},
  "y": {"field": "v", "type": "quantitative", "scale": {"domain": [0, 1], "nice": false}, "axis": {"values": [0.3, 0.6, 0.9], "format": ".1f", "labelFontSize": 20, "title": null}},
  "color": {"field": "s", "type": "nominal", "scale": {"domain": ["f", "m"], "range": ["#0000ff", "#ff0000"]}, "legend": {"orient": "none", "legendX": 110, "legendY": 10, "title": null, "labelExpr": "datum.value == 'f' ? 'Rs 0 0 0, Fit' : 'Rs 0 0 0, meas'"}}}},
{"width": 494, "height": 141, "data": {"name": "R2"}, "transform": [{"fold": ["f", "m"], "as": ["s", "v"]}], "mark": "line",
 "encoding": {
  "x": {"field": "x", "type": "quantitative", "scale": {"domain": [125, 1300], "reverse": true, "nice": false, "zero": false}, "axis": {"values": [1200, 1000, 800, 600, 400, 200], "labels": false, "title": null}},
  "y": {"field": "v", "type": "quantitative", "scale": {"domain": [0, 1], "nice": false}, "axis": {"values": [0.3, 0.6, 0.9], "format": ".1f", "labelFontSize": 20, "title": null}},
  "color": {"field": "s", "type": "nominal", "scale": {"domain": ["f", "m"], "range": ["#0000ff", "#ff0000"]}, "legend": {"orient": "none", "legendX": 117, "legendY": 10, "title": null, "labelExpr": "datum.value == 'f' ? 'Rs 0 90 0, Fit' : 'Rs 0 90 0, meas'"}}}},
{"width": 494, "height": 144, "data": {"name": "R3"}, "transform": [{"fold": ["f", "m"], "as": ["s", "v"]}], "mark": "line",
 "encoding": {
  "x": {"field": "x", "type": "quantitative", "scale": {"domain": [125, 1300], "reverse": true, "nice": false, "zero": false}, "axis": {"values": [1200, 1000, 800, 600, 400, 200], "labels": false, "title": null}},
  "y": {"field": "v", "type": "quantitative", "scale": {"domain": [0, 1], "nice": false}, "axis": {"values": [0.3, 0.6, 0.9], "format": ".1f", "labelFontSize": 20, "title": null}},
  "color": {"field": "s", "type": "nominal", "scale": {"domain": ["f", "m"], "range": ["#0000ff", "#ff0000"]}, "legend": {"orient": "none", "legendX": 112, "legendY": 6, "title": null, "labelExpr": "datum.value == 'f' ? 'Rs 90 90 90, Fit' : 'Rs 90 90 90, meas'"}}}},
{"width": 494, "height": 144, "data": {"name": "R4"}, "transform": [{"fold": ["f", "m"], "as": ["s", "v"]}], "mark": "line",
 "encoding": {
  "x": {"field": "x", "type": "quantitative", "scale": {"domain": [125, 1300], "reverse": true, "nice": false, "zero": false}, "axis": {"values": [1200, 1000, 800, 600, 400, 200], "labels": false, "title": null}},
  "y": {"field": "v", "type": "quantitative", "scale": {"domain": [0, 1], "nice": false}, "axis": {"values": [0.3, 0.6, 0.9], "format": ".1f", "labelFontSize": 20, "title": "Reflectivity", "titleFontSize": 24, "titleX": -66, "titleY": 50, "titleBaseline": "alphabetic"}},
  "color": {"field": "s", "type": "nominal", "scale": {"domain": ["f", "m"], "range": ["#0000ff", "#ff0000"]}, "legend": {"orient": "none", "legendX": 128, "legendY": 6, "title": null, "labelExpr": "datum.value == 'f' ? 'Rs 45 0 0, Fit' : 'Rs 45 0 0, meas'"}}}},
{"width": 494, "height": 145, "data": {"name": "R5"}, "transform": [{"fold": ["f", "m"], "as": ["s", "v"]}], "mark": "line",
 "encoding": {
  "x": {"field": "x", "type": "quantitative", "scale": {"domain": [125, 1300], "reverse": true, "nice": false, "zero": false}, "axis": {"values": [1200, 1000, 800, 600, 400, 200], "labels": false, "title": null}},
  "y": {"field": "v", "type": "quantitative", "scale": {"domain": [0, 1], "nice": false}, "axis": {"values": [0.3, 0.6, 0.9], "format": ".1f", "labelFontSize": 20, "title": null}},
  "color": {"field": "s", "type": "nominal", "scale": {"domain": ["f", "m"], "range": ["#0000ff", "#ff0000"]}, "legend": {"orient": "none", "legendX": 100, "legendY": 3, "title": null, "labelExpr": "datum.value == 'f' ? 'Rs 0 90 45, Fit' : 'Rs 0 90 45, meas'"}}}},
{"width": 494, "height": 145, "data": {"name": "R6"}, "transform": [{"fold": ["f", "m"], "as": ["s", "v"]}], "mark": "line",
 "encoding": {
  "x": {"field": "x", "type": "quantitative", "scale": {"domain": [125, 1300], "reverse": true, "nice": false, "zero": false}, "axis": {"values": [1200, 1000, 800, 600, 400, 200], "format": "d", "labelFontSize": 21, "title": "wavenumber 1/cm", "titleFontSize": 25, "titlePadding": 22, "titleX": 251}},
  "y": {"field": "v", "type": "quantitative", "scale": {"domain": [0, 1], "nice": false}, "axis": {"values": [0, 0.3, 0.6, 0.9], "format": ".1~f", "labelFontSize": 20, "title": null}},
  "color": {"field": "s", "type": "nominal", "scale": {"domain": ["f", "m"], "range": ["#0000ff", "#ff0000"]}, "legend": {"orient": "none", "legendX": 120, "legendY": 2, "title": null, "labelExpr": "datum.value == 'f' ? 'Rs 90 90 45, Fit' : 'Rs 90 90 45, meas'"}}}}
]
}
]
}
